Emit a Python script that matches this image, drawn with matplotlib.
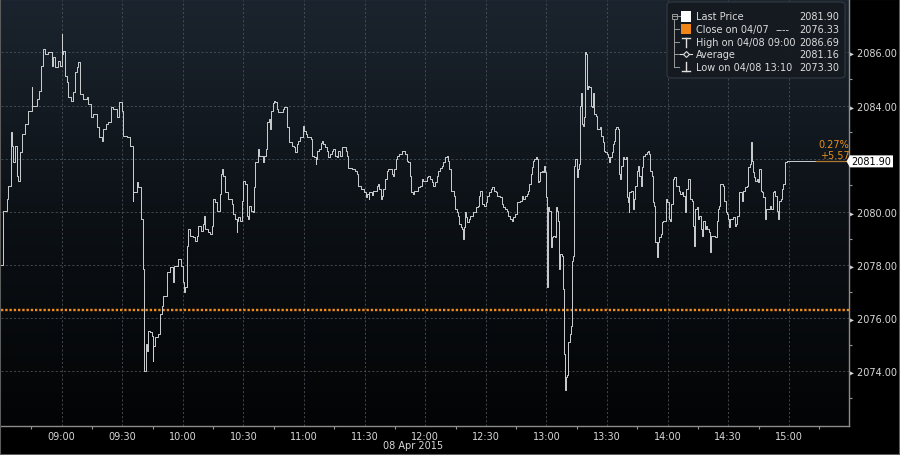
import numpy as np
import matplotlib
matplotlib.use("Agg")
import matplotlib.pyplot as plt
from matplotlib.patches import FancyBboxPatch, Rectangle, Polygon
from matplotlib.lines import Line2D
from matplotlib.colors import LinearSegmentedColormap
from matplotlib.ticker import FixedLocator, FuncFormatter

# ---------------- data ----------------
session_open = "08:30"
# minutes after 08:30 at which the price changed (step series)
minutes = [
    0.0, 0.8, 2.8, 3.6, 4.9, 5.2, 6.1, 6.9, 7.8, 8.6, 9.4, 10.2, 11.9, 13.5, 15.2, 15.5,
    17.7, 19.0, 19.6, 20.6, 21.8, 23.4, 25.1, 25.9, 26.7, 28.4, 29.2, 30.0, 30.3, 30.9,
    31.7, 32.5, 33.3, 34.5, 35.8, 36.6, 37.5, 38.3, 39.1, 40.8, 42.4, 43.2, 44.4, 45.7,
    47.4, 48.7, 49.8, 50.7, 52.0, 53.1, 54.3, 55.6, 57.3, 58.6, 59.7, 60.6, 62.2, 63.9,
    65.2, 65.5, 67.2, 68.0, 69.3, 70.5, 71.0, 71.8, 72.4, 72.9, 73.8, 74.6, 75.1, 75.4,
    76.2, 77.9, 78.7, 79.5, 80.4, 82.0, 83.7, 85.0, 85.6, 87.5, 89.0, 89.9, 90.8, 91.3,
    91.9, 92.7, 93.6, 95.2, 96.0, 96.9, 97.7, 98.8, 99.8, 100.5, 101.0, 102.6, 103.5,
    104.3, 104.8, 105.9, 106.8, 108.4, 108.9, 109.6, 110.1, 110.9, 112.5, 114.2, 115.0,
    115.8, 116.7, 117.0, 117.5, 118.3, 119.1, 120.0, 120.8, 121.6, 122.0, 122.4, 122.9,
    123.6, 124.6, 125.2, 125.9, 127.1, 127.9, 129.5, 130.4, 131.2, 131.8, 132.5, 133.2,
    133.7, 134.5, 135.1, 135.8, 136.5, 137.0, 138.1, 139.4, 140.1, 141.4, 142.7, 144.2,
    145.0, 145.7, 146.4, 147.2, 148.0, 149.7, 150.1, 150.8, 151.3, 153.4, 154.1, 154.9,
    155.8, 156.1, 156.6, 157.6, 158.2, 158.9, 159.6, 160.4, 161.2, 162.0, 162.9, 163.7,
    164.5, 165.3, 166.2, 167.0, 167.8, 168.6, 170.3, 170.8, 171.4, 171.9, 173.6, 175.2,
    176.1, 176.6, 178.0, 179.9, 180.7, 181.3, 182.0, 182.3, 183.5, 184.3, 186.0, 186.8,
    187.3, 188.0, 188.6, 189.3, 190.1, 190.9, 191.7, 193.4, 194.2, 194.7, 195.5, 196.2,
    197.2, 198.7, 200.1, 200.8, 201.6, 202.5, 203.0, 203.8, 204.4, 206.6, 207.4, 208.2,
    209.1, 210.7, 211.5, 212.4, 213.2, 214.0, 214.8, 215.7, 216.5, 217.3, 218.1, 218.9,
    219.8, 220.6, 221.4, 221.9, 222.6, 224.2, 224.7, 225.5, 226.4, 226.9, 227.5, 228.2,
    228.5, 229.2, 229.7, 230.2, 230.8, 231.5, 232.2, 233.8, 235.1, 236.0, 236.6, 237.1,
    238.3, 239.1, 239.9, 240.7, 241.7, 242.5, 243.2, 244.0, 244.9, 245.4, 247.0, 247.8,
    248.7, 249.5, 250.3, 251.1, 252.0, 252.8, 253.6, 254.4, 255.3, 256.9, 257.7, 258.6,
    259.4, 260.2, 261.0, 261.5, 262.2, 262.7, 263.2, 263.8, 264.7, 265.2, 265.7, 266.3,
    266.8, 267.6, 268.5, 269.0, 269.4, 269.9, 270.4, 270.7, 271.4, 272.1, 272.7, 273.4,
    274.1, 274.6, 275.4, 275.9, 276.4, 276.9, 277.5, 278.0, 278.7, 279.2, 279.7, 280.3,
    280.8, 281.7, 282.3, 282.8, 283.3, 283.6, 284.3, 285.0, 285.6, 286.3, 286.6, 287.1,
    287.6, 288.3, 288.7, 289.1, 289.6, 289.9, 290.4, 291.2, 291.9, 292.4, 293.2, 293.7,
    294.4, 294.9, 296.5, 297.0, 297.8, 298.5, 299.1, 299.8, 300.3, 300.8, 301.5, 302.3,
    302.8, 303.4, 303.9, 304.7, 305.2, 305.7, 306.4, 306.9, 307.7, 308.5, 309.2, 309.7,
    310.2, 310.7, 311.1, 311.8, 312.7, 313.3, 314.0, 314.7, 315.5, 316.0, 316.6, 317.3,
    318.0, 318.8, 319.6, 320.1, 320.8, 321.3, 322.1, 322.6, 323.2, 323.7, 324.6, 325.0,
    325.9, 326.5, 327.2, 327.9, 329.2, 329.8, 330.5, 331.2, 331.6, 332.5, 333.3, 334.0,
    335.4, 336.1, 336.9, 337.8, 338.6, 339.1, 339.9, 340.2, 341.0, 341.9, 342.4, 343.0,
    343.7, 344.4, 345.2, 345.7, 346.3, 347.0, 347.7, 348.3, 349.0, 349.6, 350.3, 350.9,
    351.6, 353.6, 354.3, 355.1, 355.6, 355.9, 357.6, 358.0, 358.7, 359.2, 360.0, 360.5,
    360.9, 362.5, 363.2, 363.8, 364.5, 365.1, 366.6, 367.5, 368.3, 369.1, 369.9, 370.8,
    371.1, 371.6, 372.1, 372.7, 373.4, 374.1, 374.7, 375.4, 376.0, 376.7, 377.4, 378.0,
    378.7, 380.7, 381.3, 382.0, 382.6, 383.3, 384.0, 384.6, 385.3, 385.9, 386.6, 387.3,
    387.9, 388.9, 419.8,
]
prices = [
    2078.00, 2080.05, 2080.49, 2080.99, 2082.99, 2082.49, 2081.86, 2082.49, 2081.36, 2081.18,
    2082.24, 2082.93, 2083.31, 2083.81, 2084.68, 2084.00, 2084.25, 2084.56, 2085.50, 2086.13,
    2085.94, 2086.00, 2085.50, 2085.81, 2085.44, 2085.69, 2085.50, 2086.69, 2085.94, 2086.06,
    2085.12, 2084.87, 2084.31, 2084.18, 2084.50, 2085.25, 2085.44, 2085.62, 2084.43, 2084.25,
    2084.31, 2084.06, 2083.56, 2083.68, 2083.18, 2082.80, 2082.68, 2083.12, 2083.31, 2083.37,
    2083.93, 2083.87, 2083.56, 2084.12, 2083.81, 2082.87, 2082.80, 2082.49, 2080.42, 2080.74,
    2081.11, 2080.92, 2079.73, 2077.85, 2074.03, 2075.04, 2074.78, 2075.54, 2075.47, 2075.35,
    2074.41, 2074.97, 2075.29, 2075.41, 2076.16, 2076.48, 2076.85, 2077.73, 2077.92, 2077.35,
    2077.98, 2078.23, 2077.98, 2077.35, 2076.98, 2077.17, 2078.73, 2079.36, 2079.11, 2079.05,
    2078.92, 2079.11, 2079.48, 2079.30, 2079.55, 2079.86, 2079.36, 2079.23, 2079.17, 2079.48,
    2080.49, 2080.36, 2080.05, 2080.67, 2081.43, 2081.61, 2081.36, 2080.74, 2080.49, 2080.30,
    2079.92, 2079.73, 2079.23, 2079.67, 2079.80, 2079.67, 2080.42, 2081.18, 2081.05, 2080.80,
    2079.86, 2079.73, 2080.24, 2080.05, 2079.98, 2080.92, 2081.86, 2082.37, 2082.12, 2081.86,
    2082.12, 2082.37, 2083.40, 2083.49, 2083.12, 2083.81, 2084.10, 2084.18, 2084.12, 2083.87,
    2083.74, 2083.74, 2083.87, 2083.93, 2083.18, 2082.62, 2082.49, 2082.43, 2082.24, 2082.55,
    2082.68, 2082.80, 2083.24, 2083.06, 2082.93, 2082.80, 2082.74, 2082.11, 2082.05, 2081.80,
    2081.99, 2082.30, 2082.36, 2082.61, 2082.68, 2082.55, 2082.43, 2082.30, 2082.05, 2082.18,
    2082.30, 2082.36, 2082.11, 2082.05, 2082.30, 2082.11, 2082.43, 2082.43, 2082.30, 2082.11,
    2081.67, 2081.61, 2081.55, 2081.43, 2080.99, 2080.86, 2080.74, 2080.55, 2080.68, 2080.49,
    2080.74, 2080.64, 2080.80, 2080.99, 2081.05, 2080.86, 2080.49, 2080.61, 2080.86, 2081.24,
    2081.55, 2081.61, 2081.43, 2081.36, 2081.61, 2081.99, 2082.11, 2082.18, 2082.30, 2082.18,
    2081.93, 2081.87, 2081.36, 2080.74, 2080.67, 2080.80, 2080.92, 2080.99, 2081.24, 2081.17,
    2081.30, 2081.36, 2081.24, 2081.11, 2080.99, 2081.11, 2081.36, 2081.55, 2081.67, 2081.74,
    2081.87, 2082.06, 2082.12, 2081.93, 2081.62, 2080.80, 2080.61, 2080.11, 2079.98, 2079.86,
    2079.54, 2079.42, 2079.36, 2078.98, 2079.42, 2079.98, 2079.80, 2079.61, 2079.73, 2079.86,
    2079.98, 2080.17, 2080.23, 2080.61, 2080.80, 2080.30, 2080.23, 2080.36, 2080.61, 2080.74,
    2080.86, 2080.93, 2080.80, 2080.74, 2080.61, 2080.55, 2080.30, 2080.17, 2080.11, 2080.05,
    2079.86, 2079.73, 2079.67, 2079.80, 2079.92, 2080.36, 2080.42, 2080.61, 2080.49, 2080.61,
    2080.67, 2080.80, 2081.05, 2081.43, 2081.68, 2081.93, 2081.99, 2082.06, 2081.99, 2081.11,
    2081.18, 2081.49, 2081.55, 2081.49, 2081.74, 2081.49, 2080.55, 2077.17, 2080.17, 2080.05,
    2078.67, 2079.05, 2079.11, 2079.05, 2080.17, 2080.05, 2079.67, 2077.85, 2078.42, 2078.36,
    2077.11, 2074.67, 2073.30, 2073.78, 2073.85, 2075.10, 2075.41, 2075.72, 2078.17, 2078.36,
    2081.74, 2081.99, 2081.30, 2081.62, 2081.80, 2083.99, 2084.49, 2083.30, 2083.24, 2083.56,
    2086.00, 2085.94, 2084.62, 2084.75, 2084.68, 2083.99, 2083.93, 2084.49, 2083.68, 2083.62,
    2083.12, 2083.18, 2082.87, 2082.62, 2082.30, 2082.24, 2082.18, 2082.05, 2081.86, 2082.05,
    2082.24, 2082.55, 2082.68, 2083.12, 2083.18, 2083.12, 2081.43, 2081.24, 2081.74, 2082.05,
    2081.99, 2082.05, 2080.55, 2080.36, 2079.98, 2080.74, 2080.80, 2080.11, 2080.49, 2080.99,
    2081.55, 2081.74, 2081.36, 2080.99, 2081.68, 2082.11, 2082.18, 2082.24, 2082.30, 2082.18,
    2081.55, 2081.36, 2080.36, 2080.23, 2078.86, 2078.29, 2078.86, 2079.05, 2079.17, 2079.61,
    2079.67, 2080.49, 2080.36, 2079.73, 2079.67, 2080.30, 2081.24, 2081.30, 2080.99, 2080.80,
    2080.67, 2080.74, 2080.61, 2079.98, 2080.86, 2080.92, 2081.24, 2080.49, 2080.42, 2079.48,
    2078.73, 2080.11, 2080.17, 2079.73, 2079.86, 2079.36, 2079.11, 2079.67, 2079.36, 2079.48,
    2079.36, 2079.23, 2078.48, 2079.11, 2079.05, 2079.67, 2080.11, 2080.23, 2081.05, 2080.99,
    2080.42, 2079.98, 2079.92, 2079.73, 2079.42, 2079.73, 2079.80, 2079.48, 2079.55, 2079.86,
    2080.74, 2080.42, 2080.80, 2080.92, 2080.99, 2081.68, 2081.80, 2082.62, 2081.93, 2081.49,
    2081.30, 2081.18, 2081.24, 2081.11, 2081.62, 2080.80, 2080.74, 2080.55, 2079.73, 2080.11,
    2080.23, 2080.11, 2080.74, 2080.80, 2080.61, 2080.05, 2079.73, 2080.42, 2080.49, 2080.86,
    2081.05, 2081.86, 2081.90, 2081.90,
]
close_prev = 2076.33
last_price = 2081.90
high_price = 2086.69
avg_price = 2081.16
low_price = 2073.30
change_pct = "0.27%"
change_abs = "+5.57"
x_tick_labels = ["09:00", "09:30", "10:00", "10:30", "11:00", "11:30", "12:00",
                 "12:30", "13:00", "13:30", "14:00", "14:30", "15:00"]
y_tick_values = [2074, 2076, 2078, 2080, 2082, 2084, 2086]
date_label = "08 Apr 2015"
legend_labels = ["Last Price", "Close on 04/07", "High on 04/08 09:00", "Average",
                 "Low on 04/08 13:10"]
legend_values = [last_price, close_prev, high_price, avg_price, low_price]

# ---------------- figure ----------------
W, H = 900, 456
plt.rcParams["font.family"] = ["DejaVu Sans"]
fig = plt.figure(figsize=(9, 4.56), dpi=100, facecolor="black")


def fx(px):
    return px / W


def fy(py):
    return 1 - py / H


ax = fig.add_axes([fx(1), fy(426.7), fx(849) - fx(1), fy(1) - fy(426.7)])


def to_min(hhmm):
    h, m = hhmm.split(":")
    h0, m0 = session_open.split(":")
    return (int(h) * 60 + int(m)) - (int(h0) * 60 + int(m0))


x_major = [to_min(t) for t in x_tick_labels]
x_minor = [v - 15 for v in x_major] + [x_major[-1] + 15]

# background gradient
grad = np.linspace(0, 1, 256).reshape(-1, 1)
cmap = LinearSegmentedColormap.from_list("bg", ["#030405", "#0c1116", "#1b242e"])
ax.imshow(grad, extent=[0, 1, 0, 1], transform=ax.transAxes, origin="lower",
          cmap=cmap, aspect="auto", zorder=0, interpolation="bilinear")

ax.set_xlim(0, 419.8)
ax.set_ylim(2071.96, 2087.97)

# grid
for v in y_tick_values:
    ax.axhline(v, color="#4a5159", lw=0.6, ls=(0, (2.5, 2.5)), zorder=1)
for m in x_major:
    ax.axvline(m, color="#4a5159", lw=0.6, ls=(0, (2.5, 2.5)), zorder=1)

# previous close
ax.axhline(close_prev, color="#f08c18", lw=1.7, ls=(0, (1, 0.8)), zorder=2)

# price
ax.step(minutes, prices, where="post", color="#cdd0d3", lw=0.7, zorder=3)
ax.plot([403.5, 419.8], [last_price, last_price], color="#b07a35", lw=0.9, zorder=3.5)

# axes styling
for s in ["left", "top"]:
    ax.spines[s].set_visible(False)
for s in ["right", "bottom"]:
    ax.spines[s].set_color("#8c8c8c")
    ax.spines[s].set_linewidth(1.0)

ax.xaxis.set_major_locator(FixedLocator(x_major))
ax.xaxis.set_minor_locator(FixedLocator(x_minor))
ax.set_xticklabels(x_tick_labels)
ax.tick_params(axis="x", which="major", length=0, pad=4, labelsize=7, labelcolor="#d8d8d8")
ax.tick_params(axis="x", which="minor", length=2.5, width=0.8, color="#9a9a9a", direction="out")


def ylab(v, p):
    if abs(v - last_price) < 0.3:
        return ""
    return "\u25B8 %.2f" % v


ax.yaxis.tick_right()
ax.yaxis.set_major_locator(FixedLocator(y_tick_values))
ax.yaxis.set_minor_locator(FixedLocator([v + 1 for v in y_tick_values[:-1]] + [y_tick_values[0] - 1]))
ax.yaxis.set_major_formatter(FuncFormatter(ylab))
ax.tick_params(axis="y", which="major", length=0, pad=0.2, labelsize=7, labelcolor="#d8d8d8")
ax.tick_params(axis="y", which="minor", length=2.5, width=0.8, color="#9a9a9a", direction="out")

# change text
ax.annotate(change_pct, xy=(1.0, last_price), xycoords=("axes fraction", "data"),
            xytext=(0.5, 17.5), textcoords="offset pixels", ha="right", va="center",
            fontsize=7, color="#e8901e", zorder=5)
ax.annotate(change_abs, xy=(1.0, last_price), xycoords=("axes fraction", "data"),
            xytext=(0.5, 6.5), textcoords="offset pixels", ha="right", va="center",
            fontsize=7, color="#e8901e", zorder=5)

# last price tag
tag_y = fy(53.3 + (2086 - last_price) * 26.6)
tag = Polygon([[fx(846.5), tag_y], [fx(850), tag_y + 6 / H], [fx(893), tag_y + 6 / H],
               [fx(893), tag_y - 6 / H], [fx(850), tag_y - 6 / H]], closed=True,
              transform=fig.transFigure, facecolor="white", edgecolor="none", zorder=10)
fig.patches.append(tag)
fig.text(fx(871.5), tag_y, "%.2f" % last_price, ha="center", va="center",
         fontsize=7, color="black", zorder=11)

# date label
fig.text(fx(413), fy(446), date_label, ha="center", va="center", fontsize=7, color="#d8d8d8")

# legend box
box = FancyBboxPatch((fx(667), fy(79)), fx(845) - fx(667), fy(3) - fy(79),
                     boxstyle="round,pad=0,rounding_size=0.006", transform=fig.transFigure,
                     facecolor="#141a20", edgecolor="#343b43", lw=0.8, alpha=0.95, zorder=20)
fig.patches.append(box)
rows_y = [17, 30, 42.7, 55, 68.3]
txt_col = "#dcdcdc"
for lab, val, yy in zip(legend_labels, legend_values, rows_y):
    fig.text(fx(695.5), fy(yy), lab, ha="left", va="center", fontsize=7, color=txt_col, zorder=22)
    fig.text(fx(839.5), fy(yy), "%.2f" % val, ha="right", va="center", fontsize=7,
             color=txt_col, zorder=22)
fig.text(fx(776), fy(30), "----", ha="left", va="center", fontsize=7, color=txt_col, zorder=22)


def fline(xs, ys, **kw):
    fig.lines.append(Line2D([fx(x) for x in xs], [fy(y) for y in ys],
                            transform=fig.transFigure, zorder=23, **kw))


tree_col = "#9a9a9a"
fig.patches.append(Rectangle((fx(671.5), fy(19.5)), 5 / W, 5 / H, transform=fig.transFigure,
                             fill=False, edgecolor=tree_col, lw=0.7, zorder=23))
fline([672.5, 675.5], [17, 17], color=tree_col, lw=0.7)
fline([674, 674], [19.5, 68.3], color=tree_col, lw=0.7)
for yy in rows_y[1:]:
    fline([674, 679], [yy, yy], color=tree_col, lw=0.7)
fline([677, 680], [17, 17], color=tree_col, lw=0.7)
fig.patches.append(Rectangle((fx(680.7), fy(22.7)), 10 / W, 11 / H, transform=fig.transFigure,
                             facecolor="white", edgecolor="none", zorder=23))
fig.patches.append(Rectangle((fx(680.7), fy(35.3)), 10 / W, 10.5 / H, transform=fig.transFigure,
                             facecolor="#f0861a", edgecolor="none", zorder=23))
fline([682, 690], [38.5, 38.5], color="#e0e0e0", lw=1.0)
fline([686, 686], [38.5, 47.5], color="#e0e0e0", lw=1.0)
fline([680, 692], [55, 55], color="#e0e0e0", lw=0.8)
fig.lines.append(Line2D([fx(686)], [fy(55)], marker="D", markersize=3, markerfacecolor="#141a20",
                        markeredgecolor="#e0e0e0", markeredgewidth=0.8,
                        transform=fig.transFigure, zorder=24))
fline([686, 686], [63, 72], color="#e0e0e0", lw=1.0)
fline([682, 690], [72, 72], color="#e0e0e0", lw=1.0)

# figure border
fig.patches.append(Rectangle((0, 0), 1, 1, transform=fig.transFigure, fill=False,
                             edgecolor="#5c5c5c", lw=1.5, zorder=30))

fig.savefig("out.png", dpi=100, facecolor="black")
